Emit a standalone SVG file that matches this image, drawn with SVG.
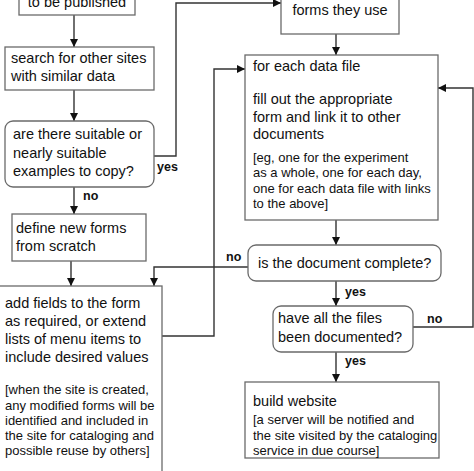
<svg xmlns="http://www.w3.org/2000/svg" width="474" height="471" viewBox="0 0 474 471">
<defs>
<marker id="arr" viewBox="0 0 10 10" refX="10" refY="5" markerWidth="8" markerHeight="8" markerUnits="userSpaceOnUse" orient="auto">
<path d="M0,0 L10,5 L0,10 z" fill="#111"/>
</marker>
<style>
.box{fill:#fff;stroke:#6a6a6a;stroke-width:1.3}
.t{font-family:"Liberation Sans",Arial,sans-serif;font-size:14.5px;fill:#111}
.s{font-family:"Liberation Sans",Arial,sans-serif;font-size:13px;fill:#111}
.l{font-family:"Liberation Sans",Arial,sans-serif;font-size:12.5px;font-weight:bold;fill:#111}
.c{fill:none;stroke:#333;stroke-width:1.4}
.ca{fill:none;stroke:#333;stroke-width:1.4;marker-end:url(#arr)}
</style>
</defs>
<rect width="474" height="471" fill="#fff"/>

<g id="connectors">
<path class="ca" d="M74,15 V47"/>
<path class="ca" d="M74,90 V121"/>
<path class="ca" d="M154,156 H176 V3 H281"/>
<path class="ca" d="M74,187 V214"/>
<path class="ca" d="M71,261 V286"/>
<path class="ca" d="M336,34 V55"/>
<path class="ca" d="M162,336 H214 V69 H245"/>
<path class="ca" d="M336,220 V245"/>
<path class="ca" d="M248,267 H154 V286"/>
<path class="ca" d="M336,281 V306"/>
<path class="ca" d="M413,327 H473 V88 H438"/>
<path class="ca" d="M336,352 V382"/>
<text class="l" x="157" y="171">yes</text>
<text class="l" x="83" y="200">no</text>
<text class="l" x="226" y="261">no</text>
<text class="l" x="345" y="296">yes</text>
<text class="l" x="427" y="323">no</text>
<text class="l" x="345" y="365">yes</text>
</g>

<g id="n-published">
<rect class="box" x="19" y="-25" width="116" height="40"/>
<text class="t" x="77" y="7" text-anchor="middle">to be published</text>
</g>

<g id="n-search">
<rect class="box" x="5" y="47" width="149" height="43"/>
<text class="t" x="11" y="63">search for other sites</text>
<text class="t" x="11" y="81">with similar data</text>
</g>

<g id="n-suitable">
<rect class="box" x="5" y="121" width="149" height="66" rx="8"/>
<text class="t" x="13" y="139">are there suitable or</text>
<text class="t" x="13" y="158">nearly suitable</text>
<text class="t" x="13" y="176">examples to copy?</text>
</g>

<g id="n-define">
<rect class="box" x="12" y="214" width="134" height="47"/>
<text class="t" x="16" y="233">define new forms</text>
<text class="t" x="16" y="251">from scratch</text>
</g>

<g id="n-addfields">
<rect class="box" x="-2" y="286" width="164" height="195"/>
<text class="t" x="5" y="308">add fields to the form</text>
<text class="t" x="5" y="326">as required, or extend</text>
<text class="t" x="5" y="344">lists of menu items to</text>
<text class="t" x="5" y="362">include desired values</text>
<text class="s" x="5" y="394">[when the site is created,</text>
<text class="s" x="5" y="410">any modified forms will be</text>
<text class="s" x="5" y="425">identified and included in</text>
<text class="s" x="5" y="440">the site for cataloging and</text>
<text class="s" x="5" y="455">possible reuse by others]</text>
</g>

<g id="n-forms">
<rect class="box" x="281" y="-25" width="118" height="59"/>
<text class="t" x="340" y="15" text-anchor="middle">forms they use</text>
</g>

<g id="n-foreach">
<rect class="box" x="245" y="55" width="193" height="165"/>
<text class="t" x="253" y="71">for each data file</text>
<text class="t" x="253" y="104">fill out the appropriate</text>
<text class="t" x="253" y="122">form and link it to other</text>
<text class="t" x="253" y="139">documents</text>
<text class="s" x="253" y="162">[eg, one for the experiment</text>
<text class="s" x="253" y="177">as a whole, one for each day,</text>
<text class="s" x="253" y="193">one for each data file with links</text>
<text class="s" x="253" y="208">to the above]</text>
</g>

<g id="n-complete">
<rect class="box" x="248" y="245" width="193" height="36" rx="8"/>
<text class="t" x="258" y="268">is the document complete?</text>
</g>

<g id="n-allfiles">
<rect class="box" x="273" y="306" width="140" height="46" rx="8"/>
<text class="t" x="278" y="323">have all the files</text>
<text class="t" x="278" y="342">been documented?</text>
</g>

<g id="n-build">
<rect class="box" x="245" y="382" width="194" height="76"/>
<text class="t" x="253" y="406">build website</text>
<text class="s" x="253" y="424">[a server will be notified and</text>
<text class="s" x="253" y="440">the site visited by the cataloging</text>
<text class="s" x="253" y="455">service in due course]</text>
</g>
</svg>
